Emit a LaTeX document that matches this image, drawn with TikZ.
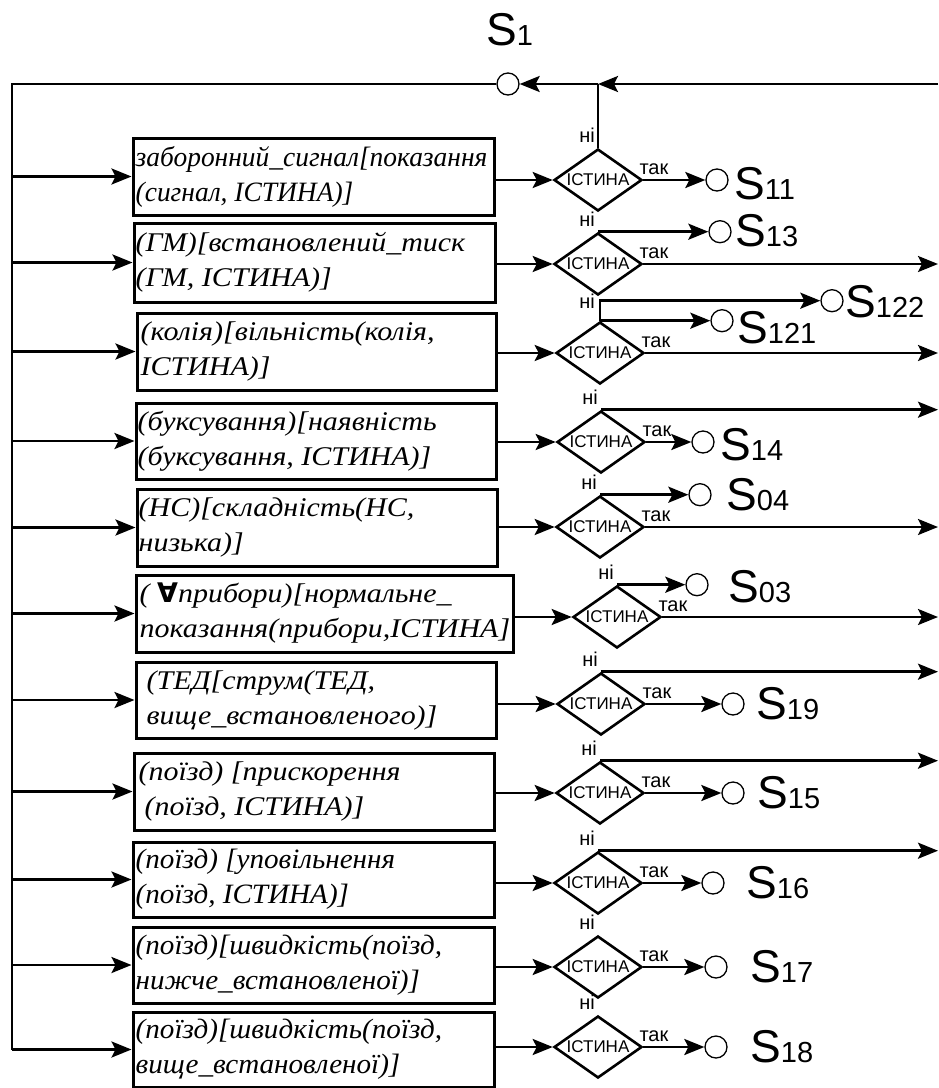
\documentclass[tikz,border=0pt]{standalone}
\usepackage{fontspec}
\setmainfont{Liberation Serif}
\newfontfamily\arfont{Liberation Sans}
\newfontfamily\wfont{Liberation Serif}[FakeStretch=1.11]
\newfontfamily\nfont{Liberation Serif}[FakeStretch=1.04]
\newfontfamily\nofont{Liberation Serif}[FakeStretch=0.98]
\newfontfamily\dvfont{DejaVu Sans}
\usetikzlibrary{shapes.geometric,arrows.meta}
\newcommand\Slab[1]{{\fontsize{46}{46}\selectfont S}{\fontsize{29}{29}\selectfont #1}}
\tikzset{
 ln/.style={line width=2.6pt},
 arr/.style={ln,-{Stealth[length=20pt,width=16pt,inset=4pt]}},
 pbox/.style={draw,line width=3pt,rectangle,inner sep=0pt},
 cond/.style={draw,diamond,line width=2.6pt,inner sep=0pt,minimum width=88pt,minimum height=62pt,aspect=1.42,font=\arfont\fontsize{17}{17}\selectfont},
 term/.style={draw,circle,line width=1.3pt,minimum size=22pt,inner sep=0pt,fill=white},
 btw/.style={anchor=west,align=left,inner sep=0pt,font=\wfont\itshape\fontsize{27}{35}\selectfont},
 btn/.style={anchor=west,align=left,inner sep=0pt,font=\nfont\itshape\fontsize{28}{35}\selectfont},
 bto/.style={anchor=west,align=left,inner sep=0pt,font=\nofont\itshape\fontsize{28}{35}\selectfont},
 yes/.style={font=\arfont\fontsize{20}{20}\selectfont,inner sep=0pt,anchor=base west},
 no/.style={font=\arfont\fontsize{20}{20}\selectfont,inner sep=0pt,anchor=base east},
 slab/.style={font=\arfont,inner sep=0pt,anchor=base west},
}
\begin{document}
\begin{tikzpicture}[x=1pt,y=-1pt]
\useasboundingbox[fill=white] (0,0) rectangle (939,1088);
\coordinate (L) at (12,84);
\coordinate (R) at (938,84);
\coordinate (J) at (598,84);
% S1
\node[term] (c1) at (508,84) {};
\node[slab] (s1) at (486,45) {\Slab{1}};
% boxes
\node[pbox,minimum width=361pt,minimum height=77pt] (b1) at (313.5,176.5) {};
\node[pbox,minimum width=361pt,minimum height=79pt] (b2) at (314.5,262.5) {};
\node[pbox,minimum width=359pt,minimum height=77pt] (b3) at (316.5,351.5) {};
\node[pbox,minimum width=360pt,minimum height=76pt] (b4) at (316,441) {};
\node[pbox,minimum width=360pt,minimum height=77pt] (b5) at (317,527.5) {};
\node[pbox,minimum width=377pt,minimum height=77pt] (b6) at (324.5,613.5) {};
\node[pbox,minimum width=360pt,minimum height=76pt] (b7) at (316,700) {};
\node[pbox,minimum width=360pt,minimum height=77pt] (b8) at (314,791.5) {};
\node[pbox,minimum width=361pt,minimum height=75pt] (b9) at (313.5,879.5) {};
\node[pbox,minimum width=361pt,minimum height=76pt] (b10) at (313.5,965) {};
\node[pbox,minimum width=361pt,minimum height=75pt] (b11) at (313.5,1049.5) {};
% texts
\node[bto] (t1) at ([xshift=4pt]b1.west) {заборонний\_сигнал[показання\\(сигнал, ІСТИНА)]};
\node[btw] (t2) at ([xshift=3pt]b2.west) {(ГМ)[встановлений\_тиск\\(ГМ, ІСТИНА)]};
\node[btw] (t3) at ([xshift=5pt]b3.west) {(колія)[вільність(колія,\\ІСТИНА)]};
\node[btw] (t4) at ([xshift=3pt]b4.west) {(буксування)[наявність\\(буксування, ІСТИНА)]};
\node[btw] (t5) at ([xshift=3pt]b5.west) {(НС)[складність(НС,\\низька)]};
\node[btw] (t6) at ([xshift=5pt]b6.west) {( {\dvfont\bfseries ∀}прибори)[нормальне\_\\показання(прибори,ІСТИНА]};
\node[btw] (t7) at ([xshift=12pt]b7.west) {(ТЕД[струм(ТЕД,\\вище\_встановленого)]};
\node[btw] (t8) at ([xshift=6pt]b8.west) {(поїзд) [прискорення\\\hspace{6pt}(поїзд, ІСТИНА)]};
\node[btn] (t9) at ([xshift=4pt]b9.west) {(поїзд) [уповільнення\\(поїзд, ІСТИНА)]};
\node[btn] (t10) at ([xshift=4pt]b10.west) {(поїзд)[швидкість(поїзд,\\нижче\_встановленої)]};
\node[btn] (t11) at ([xshift=4pt]b11.west) {(поїзд)[швидкість(поїзд,\\вище\_встановленої)]};
% diamonds
\node[cond] (d1) at (598,180) {ІСТИНА};
\node[cond] (d2) at (598,264) {ІСТИНА};
\node[cond] (d3) at (600,353) {ІСТИНА};
\node[cond] (d4) at (601,442) {ІСТИНА};
\node[cond] (d5) at (600,527) {ІСТИНА};
\node[cond] (d6) at (617,617) {ІСТИНА};
\node[cond] (d7) at (601,704) {ІСТИНА};
\node[cond] (d8) at (600,793) {ІСТИНА};
\node[cond] (d9) at (598,883) {ІСТИНА};
\node[cond] (d10) at (598,967) {ІСТИНА};
\node[cond] (d11) at (598,1047) {ІСТИНА};
% labels ni / tak
\foreach \i in {1,2,4,5,6,7,8,9,10,11}{
  \node[no] (n\i) at ([xshift=-3pt,yshift=5pt]d\i.north) {ні};
}
\node[no] (n3) at ([xshift=-5pt,yshift=12pt]d3.north) {ні};
\foreach \i in {1,...,11}{
  \node[yes] (y\i) at ([xshift=-4pt,yshift=6pt]d\i.east) {так};
}
% terminal circles
\node[term] (c11) at (717,180) {};
\node[term] (c13) at ([xshift=122pt]d2.north) {};
\node[term] (c121) at ([xshift=122pt]d3.north) {};
\node[term] (c122) at ([xshift=232pt,yshift=20pt]d3.north) {};
\node[term] (c14) at (703,442) {};
\node[term] (c04) at ([xshift=100pt]d5.north) {};
\node[term] (c03) at ([xshift=80pt]d6.north) {};
\node[term] (c19) at (733,704) {};
\node[term] (c15) at (733,793) {};
\node[term] (c16) at (713,883) {};
\node[term] (c17) at (716,967) {};
\node[term] (c18) at (716,1047) {};
% S labels
\node[slab] (s11) at (734,199) {\Slab{11}};
\node[slab] (s13) at (735,246) {\Slab{13}};
\node[slab] (s122) at (845,317) {\Slab{122}};
\node[slab] (s121) at (737,343) {\Slab{121}};
\node[slab] (s14) at (720,460) {\Slab{14}};
\node[slab] (s04) at (726,510) {\Slab{04}};
\node[slab] (s03) at (728,602) {\Slab{03}};
\node[slab] (s19) at (756,719) {\Slab{19}};
\node[slab] (s15) at (757,808) {\Slab{15}};
\node[slab] (s16) at (746,898) {\Slab{16}};
\node[slab] (s17) at (750,982) {\Slab{17}};
\node[slab] (s18) at (750,1062) {\Slab{18}};
% top loop
\draw[arr] (R) -- (J);
\draw[arr] (J) -- (c1.east);
\draw[ln] (c1.west) -- (L) -- (L |- b11.west);
\draw[ln] (d1.north) -- (J);
% left arrows and box->diamond
\foreach \i in {1,...,11}{
  \draw[arr] (L |- b\i.west) -- (b\i.west);
  \draw[arr] (b\i.east |- d\i.west) -- (d\i.west);
}
% branches
\draw[arr] (d1.east) -- (c11.west);
\draw[arr] (d2.north) -- (c13.west);
\draw[arr] (d2.east) -- (R |- d2.east);
\draw[arr] (d3.north) -- (c121.west);
\draw[arr] (d3.north) |- (c122.west);
\draw[arr] (d3.east) -- (R |- d3.east);
\draw[arr] (d4.north) -- (R |- d4.north);
\draw[arr] (d4.east) -- (c14.west);
\draw[arr] (d5.north) -- (c04.west);
\draw[arr] (d5.east) -- (R |- d5.east);
\draw[arr] (d6.north) -- (c03.west);
\draw[arr] (d6.east) -- (R |- d6.east);
\draw[arr] (d7.north) -- (R |- d7.north);
\draw[arr] (d7.east) -- (c19.west);
\draw[arr] (d8.north) -- (R |- d8.north);
\draw[arr] (d8.east) -- (c15.west);
\draw[arr] (d9.north) -- (R |- d9.north);
\draw[arr] (d9.east) -- (c16.west);
\draw[arr] (d10.east) -- (c17.west);
\draw[arr] (d11.east) -- (c18.west);
\end{tikzpicture}
\end{document}
